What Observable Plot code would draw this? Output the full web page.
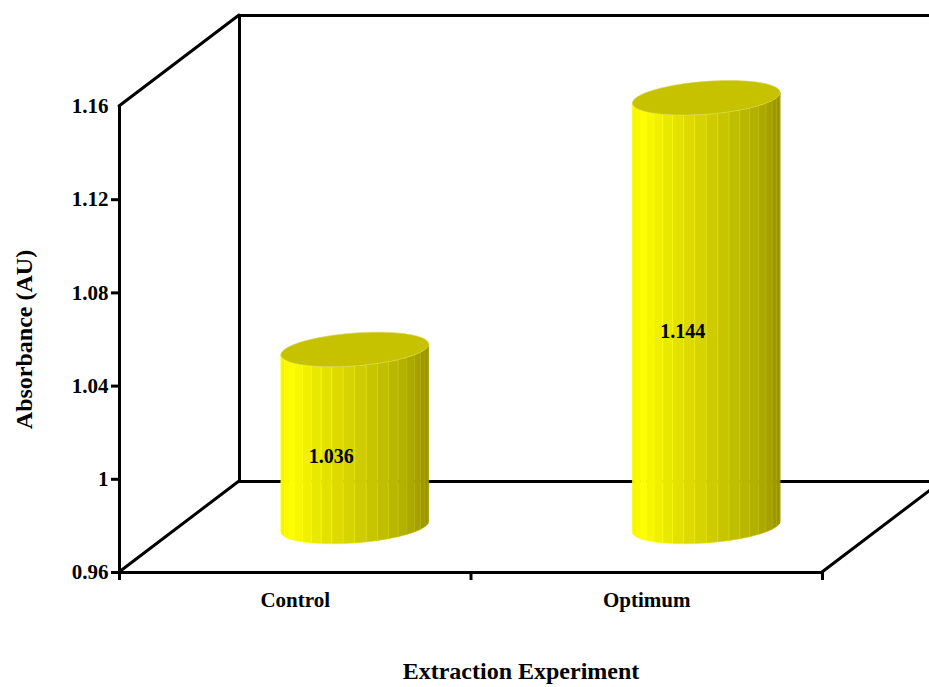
<!DOCTYPE html>
<html>
<head>
<meta charset="utf-8">
<script src="https://cdn.jsdelivr.net/npm/d3@7"></script>
<script src="https://cdn.jsdelivr.net/npm/@observablehq/plot@0.6"></script>
<style>
  html, body { margin: 0; padding: 0; background: #fff; overflow: hidden; }
</style>
</head>
<body>
<div id="chart"></div>
<script>
// Absorbance for each extraction experiment
const categories = ["Control", "Optimum"];
const absorbance = [1.036, 1.144];

// Value axis
const yTicks = [0.96, 1, 1.04, 1.08, 1.12, 1.16];
const yTickLabels = ["0.96", "1", "1.04", "1.08", "1.12", "1.16"];
const baseValue = 0.96;

const xTitle = "Extraction Experiment";
const yTitle = "Absorbance (AU)";

// Depth of the 3D box (screen offset of the back wall, px)
const depth = {dx: 120, dy: -91};
// Cylinder radius: across (category units) and along depth (fraction of depth)
const radiusX = 0.2;
const radiusDepth = 0.19;
const stripes = 20;

const bars = categories.map((category, i) => ({category, pos: i + 0.5, value: absorbance[i]}));

const font = "Liberation Serif, Times New Roman, serif";
const lineW = 3;

// Diagonal edges joining the front plane to the back wall
function boxEdges(index, {x, y}) {
  const g = d3.create("svg:g").attr("stroke", "#000").attr("stroke-width", lineW)
    .attr("stroke-linecap", "round").attr("fill", "none");
  const corners = [[0, yTicks[yTicks.length - 1]], [0, baseValue], [2, baseValue]];
  for (const [cx, cy] of corners) {
    const x0 = x(cx), y0 = y(cy);
    g.append("line").attr("x1", x0).attr("y1", y0)
      .attr("x2", x0 + depth.dx).attr("y2", y0 + depth.dy);
  }
  return g.node();
}

// Side shading: slightly dim at the left rim, brightest just right of it, dark on the right
function shade(t) {
  return t < 0.15
    ? d3.interpolateRgb("#eeec00", "#ffff00")(t / 0.15)
    : d3.interpolateRgb("#ffff00", "#908c00")((t - 0.15) / 0.85);
}

// Shaded cylinders standing at mid-depth
function cylinders(index, {x, y}) {
  const g = d3.create("svg:g");
  for (const b of bars) {
    const cx = x(b.pos) + depth.dx / 2;
    const yTop = y(b.value) + depth.dy / 2;
    const yBot = y(baseValue) + depth.dy / 2;
    const R = x(b.pos + radiusX) - x(b.pos);
    const ax = radiusDepth * depth.dx, ay = radiusDepth * depth.dy;
    const pt = (t, yc) => [cx + R * Math.cos(t) + ax * Math.sin(t), yc + ay * Math.sin(t)];
    const tLeft = Math.atan2(ax, R) + Math.PI;
    const step = Math.PI / stripes;
    for (let i = 0; i < stripes; ++i) {
      const ta = tLeft + i * step, tb = ta + step;
      const pts = [];
      for (let k = 0; k <= 4; ++k) pts.push(pt(ta + (tb - ta) * k / 4, yTop));
      for (let k = 4; k >= 0; --k) pts.push(pt(ta + (tb - ta) * k / 4, yBot));
      const c = shade(i / (stripes - 1));
      g.append("path")
        .attr("d", "M" + pts.map(p => p.join(",")).join("L") + "Z")
        .attr("fill", c)
        .attr("stroke", d3.color(c).brighter(0.3))
        .attr("stroke-width", 0.6);
    }
    const top = d3.range(0, 73).map(k => pt(k * 2 * Math.PI / 72, yTop));
    g.append("path")
      .attr("d", "M" + top.map(p => p.join(",")).join("L") + "Z")
      .attr("fill", "#c6c200")
      .attr("stroke", "#dcd850")
      .attr("stroke-width", 0.6);
  }
  return g.node();
}

const chart = Plot.plot({
  width: 929,
  height: 687,
  marginLeft: 119,
  marginRight: 107,
  marginTop: 106,
  marginBottom: 115,
  style: {fontFamily: font, fontWeight: "bold", background: "#fff", overflow: "hidden"},
  x: {type: "linear", domain: [0, 2], label: null},
  y: {domain: [baseValue, yTicks[yTicks.length - 1]], label: null},
  marks: [
    // back wall
    Plot.ruleY([yTicks[yTicks.length - 1], baseValue], {x1: 0, x2: 2.2, dx: depth.dx, dy: depth.dy, strokeWidth: lineW}),
    Plot.ruleX([0], {y1: baseValue, y2: yTicks[yTicks.length - 1], dx: depth.dx, dy: depth.dy, strokeWidth: lineW}),
    boxEdges,
    // front axes
    Plot.ruleX([0], {y1: baseValue, y2: yTicks[yTicks.length - 1], strokeWidth: lineW}),
    Plot.ruleY([baseValue], {x1: 0, x2: 2, strokeWidth: lineW}),
    Plot.axisY(yTicks.slice(0, -1), {tickSize: 8, strokeWidth: lineW, tickFormat: () => "", label: null}),
    Plot.axisY(yTicks, {tickSize: 0, tickPadding: 11, fontSize: 21, fontFamily: font, fontWeight: "bold",
      tickFormat: d => yTickLabels[yTicks.indexOf(d)], label: null}),
    Plot.axisX([0, 1, 2], {tickSize: 8, strokeWidth: lineW, tickFormat: () => "", label: null}),
    cylinders,
    // value labels
    Plot.text(bars, {x: "pos", y: d => (baseValue + d.value) / 2, text: d => d3.format(".3f")(d.value),
      dx: 36, dy: -27, fontSize: 20, fontWeight: "bold", fontFamily: font, fill: "#000"}),
    // category labels
    Plot.text(bars, {x: "pos", frameAnchor: "bottom", dy: 34, text: "category",
      fontSize: 21, fontWeight: "bold", fontFamily: font, fill: "#000"}),
    // axis titles
    Plot.text([xTitle], {frameAnchor: "bottom", dx: 50, dy: 106, fontSize: 24, fontWeight: "bold", fontFamily: font}),
    Plot.text([yTitle], {frameAnchor: "left", textAnchor: "middle", dx: -95, rotate: -90,
      fontSize: 24, fontWeight: "bold", fontFamily: font})
  ]
});
document.getElementById("chart").append(chart);
</script>
</body>
</html>
